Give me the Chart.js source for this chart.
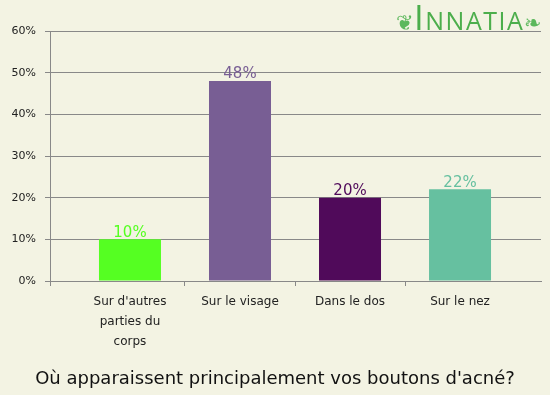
<!DOCTYPE html>
<html lang="fr">
<head>
  <meta charset="UTF-8" />
  <title>Boutons d'acné</title>
  <script src="https://cdn.jsdelivr.net/npm/chart.js"></script>
  <style>
    * { margin: 0; padding: 0; box-sizing: border-box; }
    body {
      width: 550px;
      height: 395px;
      background: #f3f3e3;
      font-family: 'DejaVu Sans', sans-serif;
      overflow: hidden;
    }
    .wrap { position: relative; width: 550px; height: 395px; }
    canvas { position: absolute; left: 0; top: 0; }
    .question {
      position: absolute;
      left: 0; right: 0;
      top: 367px;
      text-align: center;
      font-size: 18px;
      color: #111;
    }
    .logo {
      position: absolute;
      left: 396px;
      top: 0px;
      color: #4cae4c;
      font-family: 'Open Sans', sans-serif;
      font-size: 25px;
      letter-spacing: 1.5px;
      line-height: 34px;
      white-space: nowrap;
    }
    .logo .big { font-size: 35px; }
    .logo .orn { font-size: 21px; color: #5cb85c; letter-spacing: 0; }
  </style>
</head>
<body>
  <div class="wrap">
    <canvas id="acne" width="550" height="395"></canvas>
    <div class="logo"><span class="orn">❦</span><span class="big">I</span>NNATIA<span class="orn">❧</span></div>
    <div class="question">Où apparaissent principalement vos boutons d'acné?</div>
  </div>

  <script>
    // values
    const categories = [
      ["Sur d'autres", "parties du", "corps"],
      ["Sur le visage"],
      ["Dans le dos"],
      ["Sur le nez"]
    ];
    const percents = [10, 48, 20, 22];
    const barColors = ['#55ff22', '#785e94', '#500a5a', '#66c0a0'];
    const yTicks = [0, 10, 20, 30, 40, 50, 60];

    // x is a linear scale so the bands can sit inside a wider plot
    const xMin = -0.727;
    const xMax = 3.736;

    const valueLabels = {
      id: 'valueLabels',
      afterDatasetsDraw(chart) {
        const ctx = chart.ctx;
        const meta = chart.getDatasetMeta(0);
        ctx.save();
        ctx.font = '15px "DejaVu Sans", sans-serif';
        ctx.textAlign = 'center';
        ctx.textBaseline = 'bottom';
        meta.data.forEach((bar, i) => {
          ctx.fillStyle = barColors[i];
          ctx.fillText(percents[i] + '%', bar.x, bar.y + 1);
        });
        ctx.restore();
      }
    };

    new Chart(document.getElementById('acne'), {
      type: 'bar',
      data: {
        datasets: [{
          data: percents.map((v, i) => ({ x: i, y: v })),
          backgroundColor: barColors,
          barThickness: 62,
          borderWidth: 0,
          inflateAmount: 0
        }]
      },
      options: {
        responsive: false,
        animation: false,
        layout: { padding: { top: 31, right: 9, left: 0, bottom: 0 } },
        plugins: {
          legend: { display: false },
          tooltip: { enabled: false }
        },
        scales: {
          x: {
            type: 'linear',
            offset: false,
            min: xMin,
            max: xMax,
            afterFit: s => { s.height = 114; },
            afterBuildTicks: s => {
              s.ticks = [xMin, 0, 0.5, 1, 1.5, 2, 2.5, 3].map(v => ({ value: v }));
            },
            grid: {
              offset: false,
              drawOnChartArea: false,
              drawTicks: true,
              tickLength: 5,
              color: c => (c.tick && Number.isInteger(c.tick.value)) ? 'rgba(0,0,0,0)' : '#888888'
            },
            border: { display: true, color: '#888888' },
            ticks: {
              autoSkip: false,
              maxRotation: 0,
              padding: 6,
              color: '#222222',
              font: { family: 'DejaVu Sans', size: 12, lineHeight: 1.65 },
              callback: v => Number.isInteger(v) && v >= 0 ? categories[v] : ''
            }
          },
          y: {
            min: 0,
            max: 60,
            afterFit: s => { s.width = 50; },
            afterBuildTicks: s => { s.ticks = yTicks.map(v => ({ value: v })); },
            grid: {
              color: '#888888',
              tickLength: 5,
              lineWidth: 1
            },
            border: { display: true, color: '#888888' },
            ticks: {
              padding: 9,
              color: '#222222',
              font: { family: 'DejaVu Sans', size: 11 },
              callback: v => v + '%'
            }
          }
        }
      },
      plugins: [valueLabels]
    });
  </script>
</body>
</html>
